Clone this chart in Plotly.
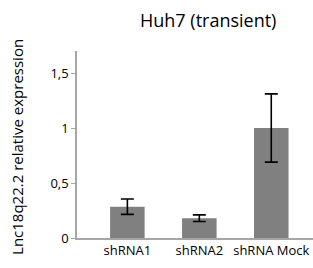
import plotly.graph_objects as go

categories = ["shRNA1", "shRNA2", "shRNA Mock"]
values = [0.285, 0.18, 1.0]
errors = [0.07, 0.03, 0.31]
tick_vals = [0, 0.5, 1, 1.5]
tick_text = ["0", "0,5", "1", "1,5"]

fig = go.Figure(go.Bar(
    x=[0, 1, 2], y=values, width=0.48,
    marker=dict(color="#808080", line=dict(width=0)),
    error_y=dict(type="data", array=errors, visible=True, color="black", thickness=1.6, width=6.5),
    hoverinfo="skip",
))

FONT = "Open Sans"
W, H = 313, 268
L, T, B = 77, 51, 30
fig.update_layout(
    width=W, height=H,
    margin=dict(l=L, r=0, t=T, b=B),
    paper_bgcolor="white", plot_bgcolor="white",
    showlegend=False,
    separators=", ",
    font=dict(family=FONT, size=13, color="black"),
    xaxis=dict(range=[-0.7, 2.58], tickvals=[0, 1, 2], ticktext=categories,
               showline=True, linecolor="#a6a6a6", linewidth=1.5, ticks="",
               showgrid=False, zeroline=False, tickfont=dict(size=13), automargin=False),
    yaxis=dict(range=[0, 1.7], tickvals=tick_vals, ticktext=tick_text,
               showline=True, linecolor="#a6a6a6", linewidth=1.5, ticks="outside",
               ticklen=4, tickcolor="#a6a6a6", showgrid=False, zeroline=False,
               tickfont=dict(size=13), automargin=False),
    annotations=[
        dict(text="Huh7 (transient)", x=(208 - L) / (W - L), y=1.0, xref="paper", yref="paper",
             yshift=31, xanchor="center", yanchor="middle", showarrow=False,
             font=dict(size=18, family=FONT)),
        dict(text="Lnc18q22.2 relative expression", x=(17 - L) / (W - L), y=0.487,
             xref="paper", yref="paper",
             textangle=-90, showarrow=False, xanchor="center", yanchor="middle",
             font=dict(size=15, family=FONT)),
    ],
)
fig.write_html("out.html", config={"displayModeBar": False},
               post_script="document.body.style.margin='0';document.body.style.overflow='hidden';")
